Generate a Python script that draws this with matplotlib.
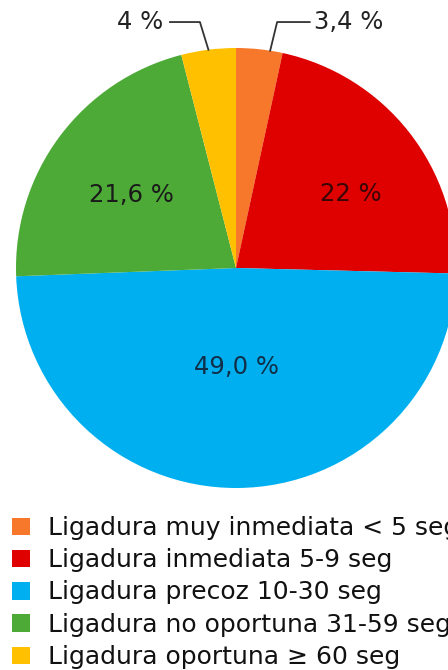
import numpy as np
import matplotlib
matplotlib.use('Agg')
import matplotlib.pyplot as plt

# datos del grafico (sentido horario desde arriba)
categorias = ['Ligadura muy inmediata < 5 seg',
              'Ligadura inmediata 5-9 seg',
              'Ligadura precoz 10-30 seg',
              'Ligadura no oportuna 31-59 seg',
              'Ligadura oportuna ≥ 60 seg']
valores = [3.4, 22.0, 49.0, 21.6, 4.0]
etiquetas = ['3,4 %', '22 %', '49,0 %', '21,6 %', '4 %']
colores = ['#F7782A', '#DF0000', '#00AFEF', '#4DAA36', '#FFC000']

plt.rcParams['font.family'] = ['DejaVu Sans']

W, H = 448, 670
fig = plt.figure(figsize=(W / 100, H / 100), dpi=100)

# eje cuadrado: centro (236, 268) px, radio 220 px
cx, cy, r = 236, 268, 220
ax = fig.add_axes([(cx - r) / W, (H - cy - r) / H, 2 * r / W, 2 * r / H])
wedges, _ = ax.pie(valores, colors=colores, startangle=90, counterclock=False,
                   radius=1, wedgeprops=dict(linewidth=0))
ax.set_xlim(-1, 1)
ax.set_ylim(-1, 1)
ax.set_aspect('equal')
ax.axis('off')

# angulos de cada porcion (desde arriba, sentido horario)
acum = np.cumsum(valores)
inicio = (acum - np.array(valores)) / sum(valores) * 2 * np.pi
ancho = np.array(valores) / sum(valores) * 2 * np.pi
medio = inicio + ancho / 2

# etiquetas internas: (distancia, desvio de angulo en grados)
internas = {1: (0.62, 5.5), 2: (0.45, 0), 3: (0.58, -1.8)}
colores_txt = {1: '#3a0505', 2: '#10304a', 3: '#1a1a1a'}
for i, (d, da) in internas.items():
    a = medio[i] + np.radians(da)
    ax.text(d * np.sin(a), d * np.cos(a), etiquetas[i], ha='center', va='center',
            fontsize=17.5, color=colores_txt[i])

# etiquetas externas con lineas guia: (fraccion de la porcion, codo x, fin x, alineacion)
externas = {0: (0.73, 0.187, 0.335, 'left'), 4: (0.5, -0.164, -0.30, 'right')}
for i, (fr, ex, tx, ha) in externas.items():
    a = inicio[i] + fr * ancho[i]
    x0, y0 = np.sin(a), np.cos(a)
    ye = 1.118
    ax.plot([x0, ex, tx], [y0, ye, ye], color='#333333', lw=1.3, clip_on=False)
    dx = 0.02 if ha == 'left' else -0.03
    ax.text(tx + dx, ye, etiquetas[i], ha=ha, va='center', fontsize=17.5,
            color='#222222', clip_on=False)

# la leyenda se corta en el borde derecho, como en el original
fig.legend(wedges, categorias, loc='upper left',
           bbox_to_anchor=(12 / W, 1 - 516 / H), frameon=False, fontsize=18,
           handlelength=0.7, handleheight=0.7, handletextpad=0.75,
           labelspacing=0.33, borderpad=0, borderaxespad=0, labelcolor='#111111')

fig.savefig('out.png', dpi=100)
